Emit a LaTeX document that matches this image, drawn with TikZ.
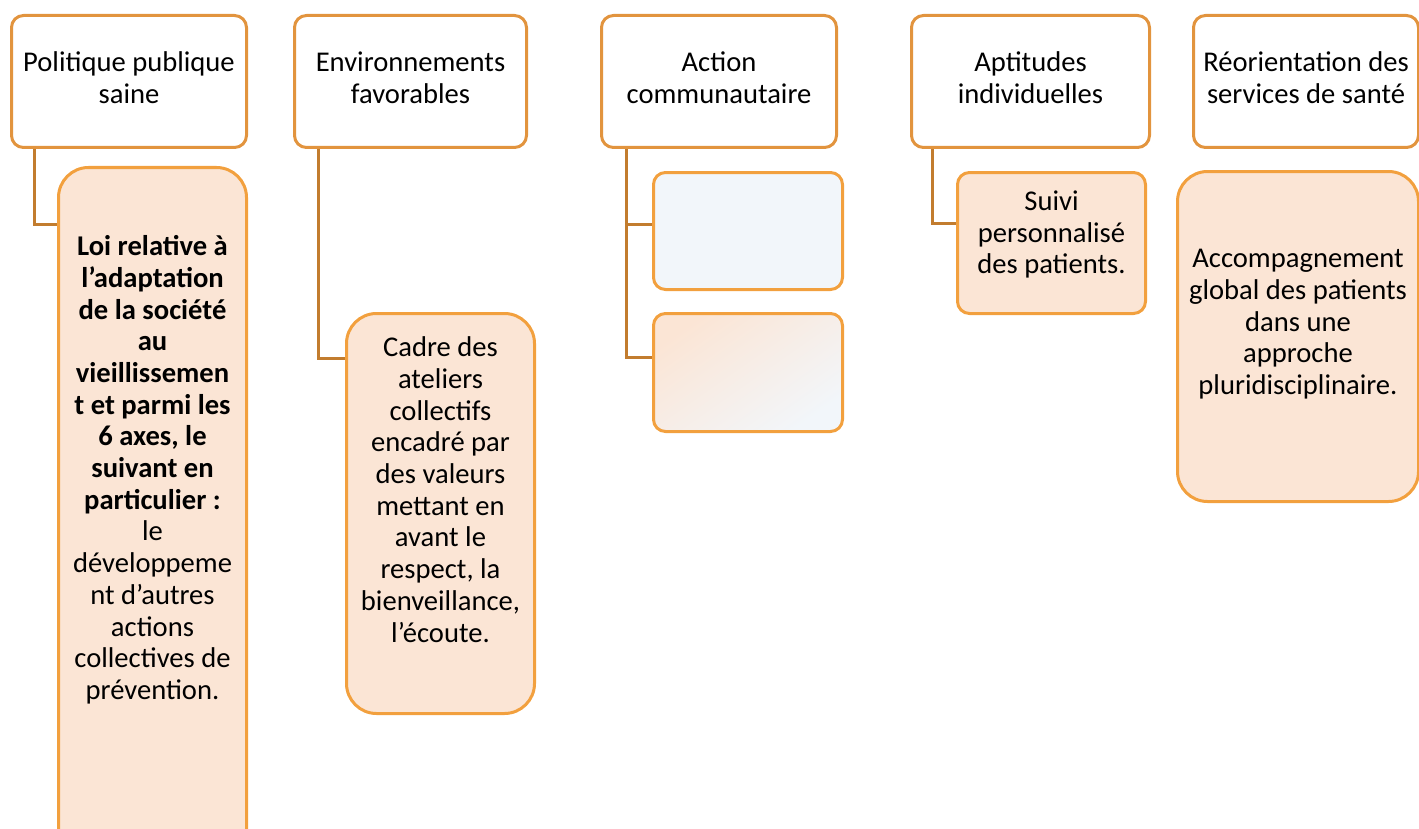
\documentclass[tikz,border=0pt]{standalone}
\usepackage{fontspec}
\setmainfont{Carlito}
\definecolor{rimtop}{RGB}{226,148,62}
\definecolor{rim}{RGB}{242,160,62}
\definecolor{stem}{RGB}{194,124,46}
\definecolor{peach}{RGB}{251,229,213}
\definecolor{mist}{RGB}{242,246,250}
\tikzset{
  head/.style={rectangle,draw=rimtop,line width=1.5pt,rounded corners=6pt,fill=white,
    minimum height=66pt,align=center,anchor=north west,text depth=4pt,
    font=\fontsize{14.3pt}{15.85pt}\selectfont},
  leaf/.style={rectangle,draw=rim,line width=1.5pt,rounded corners=6pt,fill=peach,
    minimum width=94pt,align=center,anchor=north west,
    font=\fontsize{14.3pt}{15.85pt}\selectfont},
  tall/.style={leaf,rounded corners=15pt},
  link/.style={draw=stem,line width=1.5pt},
}
\begin{document}
\begin{tikzpicture}[x=0.5pt,y=-0.5pt]
		\useasboundingbox (0,0) rectangle (1419,829);
		
		%headers
		\node[head,minimum width=117.5pt](pol) at (10,14) {Politique publique\\saine};
		\node[head,minimum width=116pt](env) at (293,14) {Environnements\\favorables};
		\node[head,minimum width=117.5pt](act) at (600,14) {Action\\communautaire};
		\node[head,minimum width=119pt](apt) at (910,14) {Aptitudes\\individuelles};
		\node[head,minimum width=112.5pt](reo) at (1192,14) {Réorientation des\\services de santé};
		
		%children
		\node[tall,minimum height=355pt,text depth=55pt](loi) at (57,166) {\textbf{Loi relative à}\\\textbf{l’adaptation}\\\textbf{de la société}\\\textbf{au}\\\textbf{vieillissemen}\\\textbf{t et parmi les}\\\textbf{6 axes, le}\\\textbf{suivant en}\\\textbf{particulier :}\\le\\développeme\\nt d’autres\\actions\\collectives de\\prévention.};
		\node[tall,minimum height=200pt,text depth=24pt](cadre) at (345,312) {Cadre des\\ateliers\\collectifs\\encadré par\\des valeurs\\mettant en\\avant le\\respect, la\\bienveillance,\\l’écoute.};
		\node[leaf,minimum width=94.5pt,minimum height=58.5pt,fill=mist](vide1) at (652,171) {};
		\node[leaf,minimum width=94.5pt,minimum height=59pt,shading=axis,top color=peach,middle color=peach!80!mist,bottom color=mist,shading angle=35](vide2) at (652,312) {};
		\node[leaf,minimum height=70.5pt,text depth=10.6pt](suivi) at (956,171) {Suivi\\personnalisé\\des patients.};
		\node[tall,minimum width=120.5pt,minimum height=165pt,text depth=14.6pt](accomp) at (1176,170) {Accompagnement\\global des patients\\dans une\\approche\\pluridisciplinaire.};
		
		%links
		\draw[link] ([xshift=12pt]pol.south west) |- ([yshift=-29pt]loi.north west);
		\draw[link] ([xshift=12.5pt]env.south west) |- ([yshift=-23pt]cadre.north west);
		\draw[link] ([xshift=13pt]act.south west) |- ([yshift=-26.5pt]vide1.north west);
		\draw[link] ([xshift=13pt]act.south west) |- ([yshift=-22.5pt]vide2.north west);
		\draw[link] ([xshift=11pt]apt.south west) |- ([yshift=-26pt]suivi.north west);
\end{tikzpicture}
\end{document}
